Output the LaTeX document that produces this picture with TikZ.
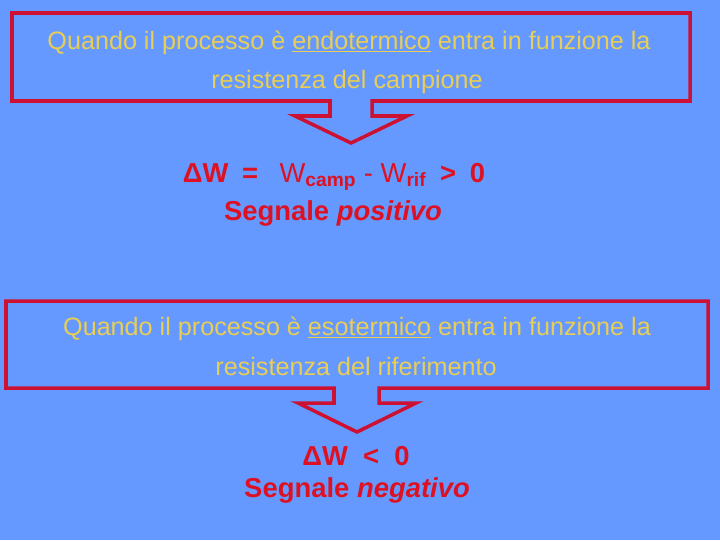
\documentclass[tikz,border=0pt]{standalone}
\usepackage{fontspec}
\setmainfont{Liberation Sans}
\usepackage{xcolor}
\usetikzlibrary{positioning}
\definecolor{sfondo}{RGB}{102,153,255}
\definecolor{rosso}{RGB}{204,17,51}
\definecolor{rossotesto}{RGB}{221,17,34}
\definecolor{giallo}{RGB}{232,206,84}
\tikzset{
    bordo/.style={draw=rosso, line width=2.5pt, line join=miter},   % outline of the callouts
    testo/.style={text=giallo, inner sep=0pt, anchor=base,
        font=\fontsize{17.9}{20}\selectfont},                        % yellow text in the boxes
    segnale/.style={text=rossotesto, inner sep=0pt, anchor=base,
        font=\fontsize{19.5}{24}\selectfont},                        % red result lines
}

\begin{document}
\begin{tikzpicture}[x=0.025cm, y=-0.025cm]

\fill[sfondo] (0,0) rectangle (720,540);
\useasboundingbox (0,0) rectangle (720,540);

% endothermic callout
\draw[bordo] (330,101) -- (12,101) -- (12,13) -- (690,13) -- (690,101)
    -- (372,101) -- (372,116) -- (407,116) -- (351,143) -- (295,116)
    -- (330,116) -- cycle;
\node[testo] (endo1) at (349,49) {Quando il processo è \underline{endotermico} entra in funzione la};
\node[testo] (endo2) at (347,88) {resistenza del campione};

\node[segnale] (delta1) at (334,182) {\textbf{ΔW\enspace=}\enspace\ W\textsubscript{\textbf{camp}} - W\textsubscript{\textbf{rif}}\enspace\textbf{>\enspace 0}};
\node[segnale] (pos) at (333,220) {\textbf{Segnale \textit{positivo}}};

% exothermic callout
\draw[bordo] (334,388) -- (6,388) -- (6,301) -- (708,301) -- (708,388)
    -- (379,388) -- (379,403) -- (416,403) -- (357,432) -- (298,403)
    -- (334,403) -- cycle;
\node[testo] (eso1) at (357,335) {Quando il processo è \underline{esotermico} entra in funzione la};
\node[testo] (eso2) at (356,375) {resistenza del riferimento};

\node[segnale] (delta2) at (356,465) {\textbf{ΔW\ \ <\ \ 0}};
\node[segnale] (neg) at (357,497) {\textbf{Segnale \textit{negativo}}};

\end{tikzpicture}
\end{document}
